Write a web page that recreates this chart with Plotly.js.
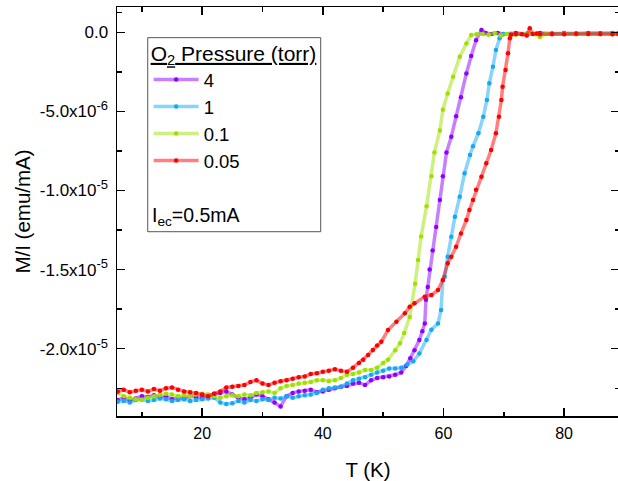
<!DOCTYPE html>
<html>
<head>
<meta charset="utf-8">
<script src="https://cdn.plot.ly/plotly-3.0.1.min.js"></script>
<style>
html, body { margin: 0; padding: 0; overflow: hidden; background: #fff; }
#chart { width: 619px; height: 481px; }
</style>
</head>
<body>
<div id="chart"></div>
<script>
// Temperature (K) and M/I in units of 1e-5 emu/mA
const seriesNames = ['4', '1', '0.1', '0.05'];

const T_4 = [6,7,8,9,10,11,12,13,14,15,16,17,18,19,20,21,22,23,24,25,26,27,28,29,30,31,32,33,34,35,36,37,38,39,40,41,42,43,44,45,46,47,48,49,50,51,52,53,53.8,54.5,55.2,56,56.5,56.9,57.1,57.4,57.7,58.2,58.8,59.4,59.9,60.5,61.3,62.1,62.9,63.8,64.6,65.4,66.3,67,68,69,70,72,74,76,78,80,82,84,86,88,89];
const M_4 = [-2.325,-2.31,-2.33,-2.315,-2.30,-2.305,-2.295,-2.31,-2.30,-2.32,-2.31,-2.315,-2.30,-2.305,-2.31,-2.30,-2.285,-2.28,-2.27,-2.29,-2.31,-2.32,-2.31,-2.29,-2.30,-2.32,-2.34,-2.365,-2.30,-2.28,-2.27,-2.265,-2.26,-2.275,-2.27,-2.26,-2.25,-2.24,-2.235,-2.22,-2.215,-2.23,-2.20,-2.185,-2.18,-2.175,-2.165,-2.15,-2.11,-2.06,-2.01,-1.945,-1.89,-1.84,-1.69,-1.61,-1.50,-1.38,-1.23,-1.06,-0.91,-0.76,-0.66,-0.53,-0.41,-0.26,-0.15,-0.05,0.015,-0.005,-0.01,-0.005,-0.01,-0.005,-0.01,-0.005,-0.008,-0.005,-0.007,-0.005,-0.006,-0.005,-0.006];

const T_1 = [6,7,8,9,10,11,12,13,14,15,16,17,18,19,20,21,22,23,24,25,26,27,28,29,30,31,32,33,34,35,36,37,38,39,40,41,42,43,44,45,46,47,48,49,50,51,52,53,54,55,56,57.2,58,59.1,59.6,59.9,60.2,60.7,61.3,61.9,62.7,63.5,64.4,64.9,65.8,66.6,67.2,67.6,68.2,68.7,69.3,69.6,70,72,74,76,78,80,82,84,86,88,89];
const M_1 = [-2.335,-2.33,-2.34,-2.325,-2.32,-2.33,-2.325,-2.315,-2.32,-2.33,-2.325,-2.32,-2.33,-2.325,-2.32,-2.315,-2.31,-2.34,-2.35,-2.345,-2.33,-2.34,-2.325,-2.33,-2.32,-2.325,-2.31,-2.315,-2.30,-2.31,-2.30,-2.295,-2.29,-2.28,-2.26,-2.25,-2.245,-2.24,-2.22,-2.20,-2.19,-2.18,-2.165,-2.15,-2.14,-2.125,-2.125,-2.12,-2.10,-2.08,-2.03,-1.945,-1.88,-1.84,-1.755,-1.565,-1.545,-1.418,-1.292,-1.166,-1.039,-0.891,-0.775,-0.72,-0.638,-0.534,-0.428,-0.322,-0.217,-0.112,-0.038,-0.017,-0.01,-0.012,-0.008,-0.01,-0.012,-0.008,-0.01,-0.009,-0.01,-0.008,-0.009];

const T_01 = [6,7,8,9,10,11,12,13,14,15,16,17,18,19,20,21,22,23,24,25,26,27,28,29,30,31,32,33,34,35,36,37,38,39,40,41,42,43,44,45,46,47,48,49,50,50.8,52,52.8,53.5,54.4,55.3,55.8,56.3,57.2,58.0,58.5,59.4,59.9,60.7,61.6,62.7,63.8,64.6,65.5,66.5,67.5,68.5,69.5,70.5,72,74,75,76,77,78,80,82,84,86,88,89];
const M_01 = [-2.28,-2.30,-2.31,-2.32,-2.325,-2.31,-2.30,-2.29,-2.285,-2.29,-2.30,-2.295,-2.30,-2.29,-2.285,-2.29,-2.30,-2.31,-2.30,-2.295,-2.30,-2.29,-2.295,-2.28,-2.275,-2.27,-2.28,-2.25,-2.235,-2.23,-2.22,-2.215,-2.21,-2.20,-2.20,-2.205,-2.20,-2.185,-2.165,-2.16,-2.15,-2.135,-2.135,-2.12,-2.09,-2.07,-2.01,-1.966,-1.90,-1.80,-1.59,-1.44,-1.29,-1.10,-0.91,-0.76,-0.62,-0.49,-0.386,-0.281,-0.154,-0.07,-0.017,-0.012,-0.01,-0.015,-0.005,-0.02,-0.01,-0.015,-0.005,-0.01,-0.03,-0.01,-0.012,-0.01,-0.012,-0.01,-0.011,-0.01,-0.012];

const T_005 = [6,7,8,9,10,11,12,13,14,15,16,17,18,19,20,21,22,23,24,25,26,27,28,29,30,31,32,33,34,35,36,37,38,39,40,41,42,43,44,45,46,46.7,47.5,48.3,49,49.7,50.8,52.2,53.6,54.4,55.2,56.9,58.0,59.1,59.9,60.7,61.3,62.1,62.9,63.8,64.3,64.9,65.4,66.3,67.1,67.9,68.7,69.2,69.6,69.8,70.3,70.7,71.0,71.2,72,73,73.8,74.3,74.8,75.5,76,78,80,82,84,86,88,89];
const M_005 = [-2.27,-2.26,-2.275,-2.265,-2.26,-2.27,-2.255,-2.265,-2.25,-2.245,-2.26,-2.27,-2.275,-2.28,-2.29,-2.30,-2.285,-2.27,-2.245,-2.24,-2.235,-2.23,-2.21,-2.20,-2.22,-2.23,-2.215,-2.205,-2.20,-2.19,-2.18,-2.175,-2.16,-2.155,-2.145,-2.14,-2.13,-2.14,-2.145,-2.12,-2.09,-2.07,-2.04,-2.008,-1.98,-1.956,-1.882,-1.829,-1.776,-1.735,-1.713,-1.671,-1.661,-1.629,-1.566,-1.46,-1.418,-1.355,-1.271,-1.187,-1.123,-1.06,-0.996,-0.913,-0.828,-0.744,-0.638,-0.534,-0.428,-0.344,-0.238,-0.133,-0.038,-0.015,-0.01,-0.012,-0.02,0.025,-0.01,-0.008,-0.012,-0.01,-0.012,-0.009,-0.011,-0.01,-0.012,-0.01];

const yTickVals = [0, -0.5, -1.0, -1.5, -2.0];
const yTickText = ['0.0', '-5.0x10<sup><span style="font-size:13px">-6</span></sup>', '-1.0x10<sup><span style="font-size:13px">-5</span></sup>', '-1.5x10<sup><span style="font-size:13px">-5</span></sup>', '-2.0x10<sup><span style="font-size:13px">-5</span></sup>'];
const yMinorVals = [0.125, -0.25, -0.75, -1.25, -1.75, -2.25];
const xTickVals = [20, 40, 60, 80];
const xMinorVals = [10, 30, 50, 70];

const colors = ['#8f00ff', '#14a9f5', '#9fe000', '#ff0000'];
const lineColors = ['rgba(143,0,255,0.5)', 'rgba(20,169,245,0.5)', 'rgba(159,224,0,0.5)', 'rgba(255,0,0,0.5)'];
const xs = [T_4, T_1, T_01, T_005];
const ys = [M_4, M_1, M_01, M_005];

const FONT = 'Arial, "Liberation Sans", sans-serif';

const traces = xs.map((x, i) => ({
  type: 'scatter',
  mode: 'lines+markers',
  x: x,
  y: ys[i],
  name: seriesNames[i],
  line: { color: lineColors[i], width: 3.5 },
  marker: { color: colors[i], size: 4.5 }
}));

const layout = {
  width: 619,
  height: 481,
  margin: { l: 117, r: 0, t: 7, b: 65, pad: 0 },
  paper_bgcolor: '#fff',
  plot_bgcolor: '#fff',
  font: { family: FONT, color: '#000', size: 15 },
  showlegend: true,
  xaxis: {
    range: [5.88, 89.1],
    tickmode: 'array',
    tickvals: xTickVals,
    ticks: 'inside',
    ticklen: 8,
    tickwidth: 1.5,
    tickcolor: '#000',
    showline: true,
    linewidth: 1.5,
    linecolor: '#000',
    mirror: 'ticks',
    showgrid: false,
    zeroline: false,
    ticklabelstandoff: 2,
    tickfont: { size: 16, family: FONT },
    minor: { tickmode: 'array', tickvals: xMinorVals, ticks: 'inside', ticklen: 4.5, tickwidth: 1.5, tickcolor: '#000', showgrid: false },
    title: { text: 'T (K)', font: { size: 20.5, family: FONT }, standoff: 24 }
  },
  yaxis: {
    range: [-2.4254, 0.16],
    tickmode: 'array',
    tickvals: yTickVals,
    ticktext: yTickText,
    ticks: 'inside',
    ticklen: 8,
    tickwidth: 1.5,
    tickcolor: '#000',
    showline: true,
    linewidth: 1.5,
    linecolor: '#000',
    mirror: 'ticks',
    showgrid: false,
    zeroline: false,
    ticklabelstandoff: 4,
    tickfont: { size: 17, family: FONT },
    minor: { tickmode: 'array', tickvals: yMinorVals, ticks: 'inside', ticklen: 4.5, tickwidth: 1.5, tickcolor: '#000', showgrid: false },
    title: { text: 'M/I (emu/mA)', font: { size: 20.5, family: FONT }, standoff: 3.5 }
  },
  legend: {
    x: 0.063,
    y: 0.935,
    xanchor: 'left',
    yanchor: 'top',
    bgcolor: 'rgba(0,0,0,0)',
    borderwidth: 0,
    itemwidth: 45,
    font: { size: 18.5, family: FONT, color: '#000' },
    title: { text: '<u>O<sub>2</sub> Pressure (torr)</u>', font: { size: 21, family: FONT, color: '#000' } },
    tracegroupgap: 0
  },
  shapes: [{
    type: 'rect', xref: 'paper', yref: 'paper',
    x0: 0.0612, x1: 0.4058, y0: 0.4506, y1: 0.925,
    line: { color: '#555', width: 1 }, fillcolor: 'rgba(0,0,0,0)', layer: 'above'
  }],
  annotations: [{
    xref: 'paper', yref: 'paper', x: 0.066, y: 0.487,
    xanchor: 'left', yanchor: 'middle', showarrow: false,
    text: 'I<sub>ec</sub>=0.5mA', font: { size: 19.5, family: FONT, color: '#000' }
  }]
};

Plotly.newPlot('chart', traces, layout, { displayModeBar: false, staticPlot: true });
</script>
</body>
</html>
